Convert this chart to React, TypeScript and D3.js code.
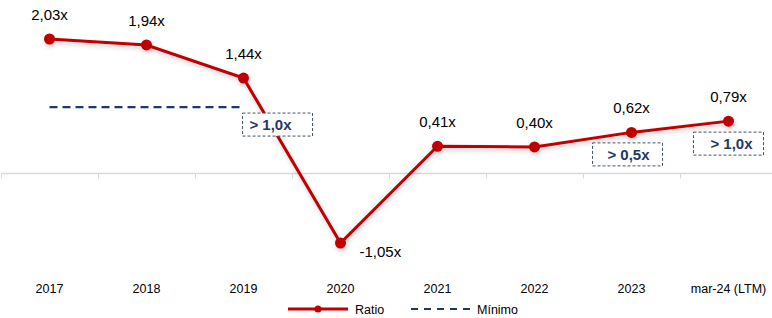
import React from 'react';
import * as d3 from 'd3';

const categories = ['2017', '2018', '2019', '2020', '2021', '2022', '2023', 'mar-24 (LTM)'];
const ratio = [2.03, 1.94, 1.44, -1.05, 0.41, 0.40, 0.62, 0.79];
const minimoLine = [1.0, 1.0, 1.0];
const minimoBoxes = [
  { cat: '2019', label: '> 1,0x' },
  { cat: '2023', label: '> 0,5x' },
  { cat: 'mar-24 (LTM)', label: '> 1,0x' },
];

const W = 772, H = 318;
const RED = '#c00000', NAVY = '#1f3864';
const font = 'Liberation Sans, Arial, sans-serif';

const fmt = (v: number) => v.toFixed(2).replace('.', ',') + 'x';

export default function App() {
  const x = d3.scaleBand<string>().domain(categories).range([1, 777]);
  const cx = (c: string) => (x(c) as number) + x.bandwidth() / 2;
  const y = d3.scaleLinear().domain([-1.05, 2.03]).range([243, 39]);

  const line = d3.line<number>().x((d, i) => cx(categories[i])).y(d => y(d));
  const dash = d3.line<number>().x((d, i) => cx(categories[i])).y(d => y(d));

  // box placement relative to the point: [left offset, centre dy, text offset]
  const boxPos: Record<string, [number, number, number]> = {
    '2019': [-1, 46.5, 28],
    '2023': [-39, 22, 36],
    'mar-24 (LTM)': [-35, 22.5, 38],
  };

  return (
    <svg width={W} height={H} style={{ position: 'absolute', left: 0, top: 0, background: '#fff' }} fontFamily={font}>
      <defs>
        <filter id="sh" x="-10%" y="-10%" width="120%" height="130%">
          <feDropShadow dx="1" dy="2.5" stdDeviation="2" floodColor="#000" floodOpacity="0.2" />
        </filter>
      </defs>
      {/* zero axis */}
      <line x1={2} x2={W} y1={y(0)} y2={y(0)} stroke="#d9d9d9" strokeWidth={1.5} />
      {d3.range(categories.length + 1).map(i => {
        const tx = 1 + i * x.step() + 0.5;
        return <line key={i} x1={tx} x2={tx} y1={y(0)} y2={y(0) + 5} stroke="#d9d9d9" strokeWidth={1} />;
      })}
      {categories.map(c => (
        <text key={c} x={cx(c)} y={293} textAnchor="middle" fontSize={12.5} fill="#000">{c}</text>
      ))}
      {/* minimum dashed line */}
      <path d={dash(minimoLine) || ''} fill="none" stroke={NAVY} strokeWidth={2.2} strokeDasharray="8,5" />
      {/* ratio line */}
      <g filter="url(#sh)">
        <path d={line(ratio) || ''} fill="none" stroke={RED} strokeWidth={3} />
        {ratio.map((v, i) => (
          <circle key={i} cx={cx(categories[i])} cy={y(v)} r={5.5} fill={RED} />
        ))}
      </g>
      {ratio.map((v, i) => {
        const px = cx(categories[i]);
        if (v < 0) {
          return <text key={i} x={px + 19} y={y(v) + 14} fontSize={15} fill="#000">{fmt(v)}</text>;
        }
        return <text key={i} x={px} y={y(v) - 19} fontSize={15} textAnchor="middle" fill="#000">{fmt(v)}</text>;
      })}
      {/* minimum boxes */}
      {minimoBoxes.map(b => {
        const [dx, dy, tdx] = boxPos[b.cat];
        const i = categories.indexOf(b.cat);
        const bx = cx(b.cat) + dx;
        const by = y(ratio[i]) + dy;
        return (
          <g key={b.cat}>
            <rect x={bx} y={by - 11.5} width={70} height={23} fill="#fff" stroke="#44546a" strokeWidth={1} strokeDasharray="3,2" />
            <text x={bx + tdx} y={by + 5.5} textAnchor="middle" fontSize={15} fontWeight="bold" fill={NAVY}>{b.label}</text>
          </g>
        );
      })}
      {/* legend */}
      <line x1={288} x2={348} y1={309} y2={309} stroke={RED} strokeWidth={3} />
      <circle cx={318} cy={309} r={3.5} fill={RED} />
      <text x={355} y={313.5} fontSize={12.5} fill="#000">Ratio</text>
      <line x1={411} x2={470} y1={309} y2={309} stroke={NAVY} strokeWidth={2} strokeDasharray="7,6" />
      <text x={477} y={313.5} fontSize={12.5} fill="#000">Mínimo</text>
    </svg>
  );
}
